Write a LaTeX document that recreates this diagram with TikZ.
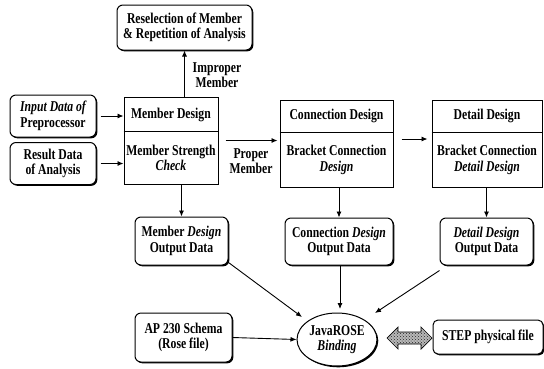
\documentclass[tikz,border=0pt]{standalone}
\usepackage{fontspec}
\setmainfont[FakeStretch=0.78]{Liberation Serif}
\usetikzlibrary{arrows.meta,calc,shapes.geometric,shadows,patterns}

\tikzset{
  base/.style={draw, line width=1pt, align=center, inner sep=1pt,
    font=\fontsize{15}{15.5}\selectfont\bfseries,
    drop shadow={shadow xshift=1.3pt, shadow yshift=-1.3pt, fill=black, opacity=1}, fill=white},
  rbox/.style={base, rounded corners=6pt},
  sbox/.style={base},
  txt/.style={align=center, inner sep=0pt, font=\fontsize{15}{15.5}\selectfont\bfseries},
  arr/.style={-{Latex[length=6pt,width=5pt]}, line width=0.9pt},
}

\begin{document}
\begin{tikzpicture}[x=1pt, y=-1pt]
\useasboundingbox (0,0) rectangle (544,368);

% feedback box
\node[rbox, minimum width=135pt, minimum height=45pt] (resel) at (184.5,27.5)
  {Reselection of Member\\\& Repetition of Analysis};

% input data boxes
\node[rbox, minimum width=86pt, minimum height=42pt] (inp) at (53,116)
  {\itshape Input Data of\\Preprocessor};
\node[rbox, minimum width=86pt, minimum height=42pt] (res) at (53,163.5)
  {Result Data\\of Analysis};

% design stages (two-part boxes)
\node[sbox, minimum width=94pt, minimum height=87pt] (md) at (171,140.5) {};
\node[txt] (mdt) at (171,115) {Member Design};
\node[txt] (mdb) at (171,158) {Member Strength\\\itshape Check};
\draw[line width=0.8pt] ($(md.north west)+(0,35)$) -- ($(md.north east)+(0,35)$);

\node[sbox, minimum width=113pt, minimum height=87pt] (cd) at (336.5,143.5) {};
\node[txt] (cdt) at (336.5,116) {Connection Design};
\node[txt] (cdb) at (336.5,160) {Bracket Connection\\\itshape Design};
\draw[line width=0.8pt] ($(cd.north west)+(0,33)$) -- ($(cd.north east)+(0,33)$);

\node[sbox, minimum width=110pt, minimum height=87pt] (dd) at (487,143.5) {};
\node[txt] (ddt) at (487,116) {Detail Design};
\node[txt] (ddb) at (487,160) {Bracket Connection\\\itshape Detail Design};
\draw[line width=0.8pt] ($(dd.north west)+(0,33)$) -- ($(dd.north east)+(0,33)$);

% output data boxes
\node[rbox, minimum width=93pt, minimum height=48pt] (mdo) at (181.5,241)
  {Member {\itshape Design}\\Output Data};
\node[rbox, minimum width=108pt, minimum height=47pt] (cdo) at (339,241.5)
  {Connection {\itshape Design}\\Output Data};
\node[rbox, minimum width=93pt, minimum height=47pt] (ddo) at (486.5,241.5)
  {\itshape Detail Design\\Output Data};

% schema, binding and physical file
\node[rbox, minimum width=97pt, minimum height=49pt] (ap) at (183.5,337.5)
  {AP 230 Schema\\(Rose file)};
\node[base, ellipse, minimum width=80pt, minimum height=53pt, inner sep=0pt] (jr) at (337,339.5)
  {JavaROSE\\\itshape Binding};
\node[rbox, minimum width=110pt, minimum height=34pt, rounded corners=5pt] (step) at (488,337)
  {STEP physical file};

% two-way exchange between binding and physical file (block arrow)
\coordinate (xa) at (387,338);
\coordinate (xb) at (432,338);
\path[draw, line width=0.7pt, fill=gray!55]
  (xa) -- ++(11,-11) -- ++(0,5) -- ($(xb)+(-11,-6)$) -- ++(0,-5) -- (xb)
  -- ++(-11,11) -- ++(0,-5) -- ($(xa)+(11,6)$) -- ++(0,5) -- cycle;
\path[pattern=crosshatch dots, pattern color=gray!30!black]
  (xa) -- ++(11,-11) -- ++(0,5) -- ($(xb)+(-11,-6)$) -- ++(0,-5) -- (xb)
  -- ++(-11,11) -- ++(0,-5) -- ($(xa)+(11,6)$) -- ++(0,5) -- cycle;

% flow connectors
\draw[arr] (resel.south |- md.north) -- (resel.south);
\node[txt] (impl) at (217,75) {Improper\\Member};

\draw[arr] (inp.east) ++(4,0) coordinate (i1) -- (i1 -| md.west);
\draw[arr] (res.east) ++(4,0) coordinate (r1) -- (r1 -| md.west);

\draw[arr, shorten <=7pt, shorten >=2pt] (md.east) -- (md.east -| cd.west);
\node[txt] (propl) at (251,161) {Proper\\Member};

\draw[arr, shorten <=8pt, shorten >=4pt] (cd.east |- 0,139) -- (dd.west |- 0,139);

\draw[arr] (mdo.north |- md.south) -- (mdo.north);
\draw[arr] (cdo.north |- cd.south) -- (cdo.north);
\draw[arr] (ddo.north |- dd.south) -- (ddo.north);

\coordinate (m1) at (302,317);
\coordinate (c1) at (340,309);
\coordinate (d1) at (375,313);
\draw[arr] (mdo.south east) ++(0,-3) -- (m1);
\draw[arr] (cdo.south) ++(1,0) -- (c1);
\draw[arr] (ddo.south west) ++(0,5) -- (d1);
\draw[arr] (ap.east) -- (jr.west);
\end{tikzpicture}
\end{document}
